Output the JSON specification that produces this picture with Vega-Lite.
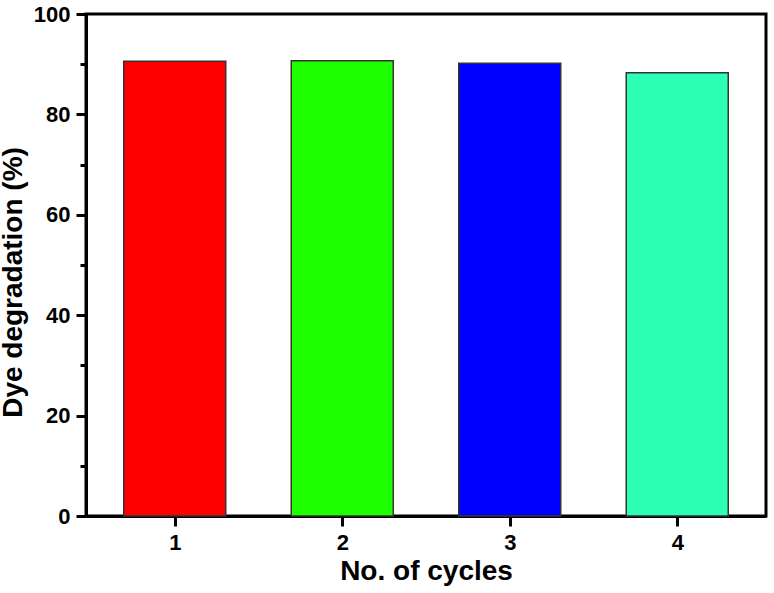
{
  "$schema": "https://vega.github.io/schema/vega-lite/v6.json",
  "width": 680,
  "height": 502,
  "autosize": {"type": "none"},
  "padding": {"left": 86, "top": 14, "right": 8, "bottom": 77},
  "background": "white",
  "config": {
    "view": {"stroke": "black", "strokeWidth": 3},
    "axis": {
      "labelFont": "Liberation Sans",
      "labelFontWeight": "bold",
      "labelFontSize": 22,
      "labelColor": "black",
      "titleFont": "Liberation Sans",
      "titleFontWeight": "bold",
      "titleFontSize": 28,
      "titleColor": "black",
      "domainColor": "black",
      "domainWidth": 3,
      "tickColor": "black",
      "tickWidth": 3,
      "grid": false
    }
  },
  "data": {
    "values": [
      {"cycle": 1, "deg": 90.6},
      {"cycle": 2, "deg": 90.7},
      {"cycle": 3, "deg": 90.2},
      {"cycle": 4, "deg": 88.3}
    ]
  },
  "mark": {"type": "bar", "width": 102, "stroke": "#333333", "strokeWidth": 1.5},
  "encoding": {
    "x": {
      "field": "cycle",
      "type": "quantitative",
      "scale": {"domain": [0.5, 4.5], "nice": false, "zero": false},
      "axis": {
        "title": "No. of cycles",
        "values": [1, 1.5, 2, 2.5, 3, 3.5, 4],
        "format": "d",
        "labelExpr": "datum.value % 1 === 0 ? format(datum.value, 'd') : ''",
        "tickSize": {"condition": {"test": "datum.value % 1 === 0", "value": 10}, "value": 6},
        "labelPadding": 6,
        "titlePadding": 4
      }
    },
    "y": {
      "field": "deg",
      "type": "quantitative",
      "scale": {"domain": [0, 100], "nice": false},
      "axis": {
        "title": "Dye degradation (%)",
        "values": [0, 10, 20, 30, 40, 50, 60, 70, 80, 90, 100],
        "labelExpr": "datum.value % 20 === 0 ? datum.label : ''",
        "tickSize": {"condition": {"test": "datum.value % 20 === 0", "value": 10}, "value": 6},
        "labelPadding": 6,
        "titlePadding": 6,
        "titleY": 268
      }
    },
    "color": {
      "field": "cycle",
      "type": "nominal",
      "scale": {"domain": [1, 2, 3, 4], "range": ["#ff0000", "#1eff00", "#0000ff", "#2dffb5"]},
      "legend": null
    }
  }
}
